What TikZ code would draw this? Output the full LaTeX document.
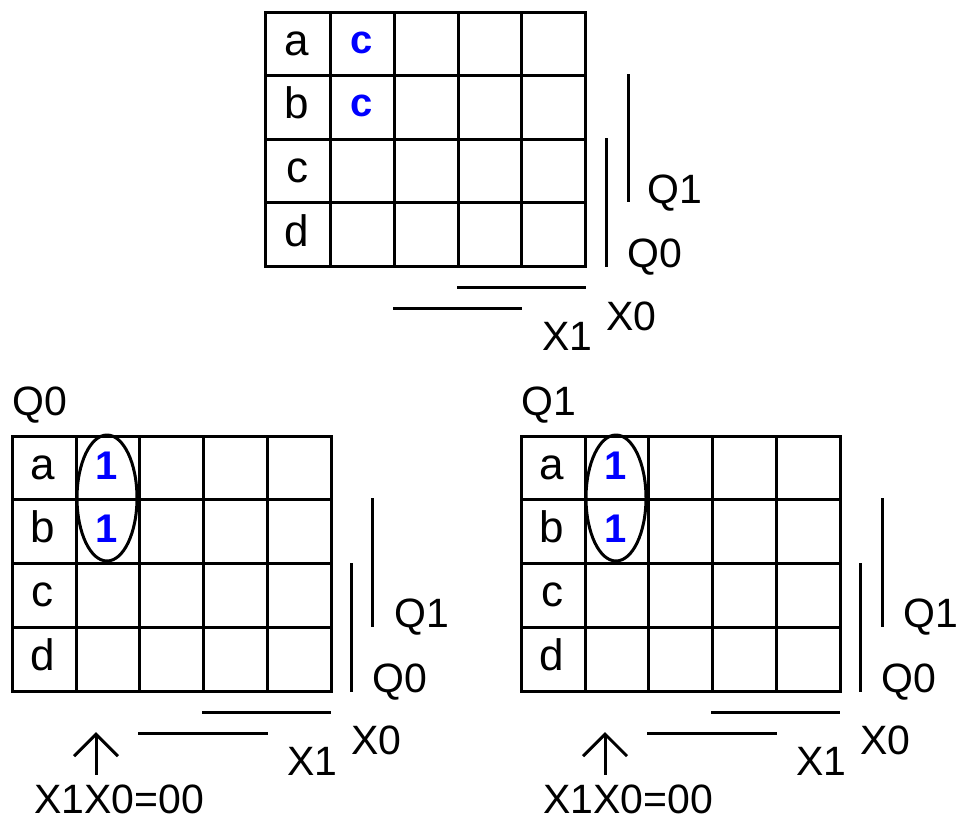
\documentclass[tikz,border=0pt]{standalone}
\usepackage{fontspec}
\setmainfont{Liberation Sans}
\usetikzlibrary{arrows.meta}
\definecolor{markblue}{HTML}{0000FF}

\begin{document}
\begin{tikzpicture}[x=0.5pt,y=-0.5pt,
  kline/.style={line width=1.5pt},
  cell/.style={anchor=base, inner sep=0pt, font=\fontsize{22}{26}\selectfont},
  hit/.style={anchor=base, inner sep=0pt, text=markblue, font=\fontsize{20}{24}\selectfont\bfseries},
  lbl/.style={anchor=base west, inner sep=0pt, font=\fontsize{20.5}{24}\selectfont},
  upmark/.style={kline, shorten <=4.5pt, -{Straight Barb[length=11pt,width=22pt]}}]
\useasboundingbox (0,0) rectangle (958,820);

% top map
\begin{scope}[shift={(265,12)}]
\draw[kline] (0,0) rectangle (320,254)
  (65,0) -- (65,254) (129,0) -- (129,254) (193,0) -- (193,254) (256,0) -- (256,254)
  (0,63) -- (320,63) (0,127) -- (320,127) (0,190) -- (320,190);
\node[cell] (t-a) at (32,43) {a};
\node[cell] (t-b) at (32,106) {b};
\node[cell] (t-c) at (32,170) {c};
\node[cell] (t-d) at (32,234) {d};
\node[hit] (t-ca) at (97,41) {c};
\node[hit] (t-cb) at (97,104) {c};
\draw[kline] (363,62) -- (363,190);
\draw[kline] (341,126) -- (341,255);
\draw[kline] (192,275) -- (321,275);
\draw[kline] (128,296) -- (257,296);
\node[lbl] (t-q1) at (382,191) {Q1};
\node[lbl] (t-q0) at (362,255) {Q0};
\node[lbl] (t-x0) at (341,318) {X0};
\node[lbl] (t-x1) at (277,338) {X1};
\end{scope}

% Q0 map
\begin{scope}[shift={(12,436)}]
\node[lbl] (l-title) at (0,-21) {Q0};
\draw[kline] (0,0) rectangle (319,255)
  (64,0) -- (64,255) (127,0) -- (127,255) (191,0) -- (191,255) (255,0) -- (255,255)
  (0,63) -- (319,63) (0,127) -- (319,127) (0,191) -- (319,191);
\node[cell] (l-a) at (31,43) {a};
\node[cell] (l-b) at (31,106) {b};
\node[cell] (l-c) at (31,170) {c};
\node[cell] (l-d) at (31,234) {d};
\node[hit] (l-1a) at (95,43) {1};
\node[hit] (l-1b) at (95,106) {1};
\draw[kline] (95,62) ellipse [x radius=15pt, y radius=31.5pt];
\draw[kline] (360,62) -- (360,191);
\draw[kline] (339,127) -- (339,256);
\draw[kline] (190,276) -- (319,276);
\draw[kline] (126,297) -- (256,297);
\node[lbl] (l-q1) at (382,191) {Q1};
\node[lbl] (l-q0) at (360,256) {Q0};
\node[lbl] (l-x0) at (339,318) {X0};
\node[lbl] (l-x1) at (275,339) {X1};
\node[lbl] (l-val) at (22,377) {X1X0=00};
\coordinate (l-tip) at (84,296);
\draw[upmark] (l-val.north -| l-tip) -- (l-tip);
\end{scope}

% Q1 map
\begin{scope}[shift={(521,436)}]
\node[lbl] (r-title) at (0,-21) {Q1};
\draw[kline] (0,0) rectangle (319,255)
  (64,0) -- (64,255) (127,0) -- (127,255) (191,0) -- (191,255) (255,0) -- (255,255)
  (0,63) -- (319,63) (0,127) -- (319,127) (0,191) -- (319,191);
\node[cell] (r-a) at (31,43) {a};
\node[cell] (r-b) at (31,106) {b};
\node[cell] (r-c) at (31,170) {c};
\node[cell] (r-d) at (31,234) {d};
\node[hit] (r-1a) at (95,43) {1};
\node[hit] (r-1b) at (95,106) {1};
\draw[kline] (95,62) ellipse [x radius=15pt, y radius=31.5pt];
\draw[kline] (361,62) -- (361,191);
\draw[kline] (339,127) -- (339,256);
\draw[kline] (190,276) -- (319,276);
\draw[kline] (126,297) -- (256,297);
\node[lbl] (r-q1) at (382,191) {Q1};
\node[lbl] (r-q0) at (360,256) {Q0};
\node[lbl] (r-x0) at (339,318) {X0};
\node[lbl] (r-x1) at (275,339) {X1};
\node[lbl] (r-val) at (22,377) {X1X0=00};
\coordinate (r-tip) at (84,296);
\draw[upmark] (r-val.north -| r-tip) -- (r-tip);
\end{scope}
\end{tikzpicture}
\end{document}
